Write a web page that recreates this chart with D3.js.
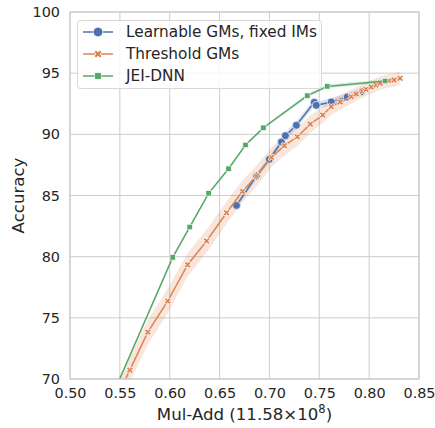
<!DOCTYPE html>
<html><head><meta charset="utf-8">
<script src="https://cdn.jsdelivr.net/npm/d3@7"></script>
<style>body{margin:0;background:#fff}</style>
</head><body>
<script>
const xTicks = [0.50,0.55,0.60,0.65,0.70,0.75,0.80,0.85];
const yTicks = [70,75,80,85,90,95,100];

const learnX = [0.667,0.687,0.700,0.712,0.716,0.727,0.745,0.747,0.762,0.778,0.793];
const learnY = [84.19,86.59,87.96,89.37,89.89,90.74,92.62,92.37,92.65,93.05,93.50];
const learnCI = [0.25,0.25,0.25,0.3,0.3,0.3,0.3,0.3,0.3,0.3,0.3];

const threshX = [0.543,0.560,0.578,0.598,0.618,0.637,0.657,0.673,0.687,0.702,0.715,0.728,0.741,0.7535,0.762,0.771,0.782,0.787,0.793,0.797,0.802,0.807,0.811,0.820,0.825,0.831];
const threshY = [67.8,70.73,73.83,76.37,79.34,81.28,83.59,85.34,86.59,88.12,89.07,89.80,90.83,91.58,92.26,92.64,93.07,93.30,93.52,93.68,93.87,94.03,94.19,94.38,94.44,94.58];
const threshCI = [1.0,1.0,1.0,1.0,0.95,0.95,0.9,0.9,0.85,0.8,0.8,0.75,0.7,0.65,0.65,0.6,0.6,0.55,0.55,0.55,0.55,0.55,0.55,0.55,0.55,0.55];

const jeiX = [0.530,0.603,0.620,0.639,0.659,0.676,0.694,0.738,0.758,0.816];
const jeiY = [66.3,79.94,82.42,85.18,87.19,89.13,90.54,93.16,93.92,94.36];
const jeiCI = [0.1,0.1,0.1,0.1,0.1,0.1,0.12,0.15,0.15,0.15];

const W = 435, H = 428;
const m = {l:70, r:16, t:12, b:49};
const svg = d3.select("body").append("svg").attr("width",W).attr("height",H)
  .style("font-family","'DejaVu Sans', sans-serif");
const x = d3.scaleLinear().domain([0.50,0.85]).range([m.l, W-m.r]);
const y = d3.scaleLinear().domain([70,100]).range([H-m.b, m.t]);
const txt = "#262626", grid = "#cccccc";

// grid
svg.append("g").selectAll("line").data(xTicks).join("line")
  .attr("x1",d=>x(d)).attr("x2",d=>x(d)).attr("y1",m.t).attr("y2",H-m.b)
  .attr("stroke",grid).attr("stroke-width",1);
svg.append("g").selectAll("line").data(yTicks).join("line")
  .attr("y1",d=>y(d)).attr("y2",d=>y(d)).attr("x1",m.l).attr("x2",W-m.r)
  .attr("stroke",grid).attr("stroke-width",1);

// axes
const xa = svg.append("g").attr("transform",`translate(0,${H-m.b})`)
  .call(d3.axisBottom(x).tickValues(xTicks).tickFormat(d3.format(".2f")).tickSize(0).tickPadding(9));
const ya = svg.append("g").attr("transform",`translate(${m.l},0)`)
  .call(d3.axisLeft(y).tickValues(yTicks).tickFormat(d3.format("d")).tickSize(0).tickPadding(10));
[xa,ya].forEach(a=>{a.select(".domain").remove();
  a.selectAll("text").attr("fill",txt).style("font-size","14.4px").style("font-family","'DejaVu Sans', sans-serif");});

// clip
svg.append("clipPath").attr("id","clip").append("rect")
  .attr("x",m.l).attr("y",m.t).attr("width",W-m.l-m.r).attr("height",H-m.t-m.b);
const plot = svg.append("g").attr("clip-path","url(#clip)");

const series = [
  {name:"Learnable GMs, fixed IMs", xs:learnX, ys:learnY, ci:learnCI, color:"#4c72b0", marker:"circle"},
  {name:"Threshold GMs", xs:threshX, ys:threshY, ci:threshCI, color:"#dd8452", marker:"x"},
  {name:"JEI-DNN", xs:jeiX, ys:jeiY, ci:jeiCI, color:"#55a868", marker:"square"}
];

series.forEach(s=>{
  const pts = s.xs.map((v,i)=>({x:v,y:s.ys[i],c:s.ci[i]}));
  plot.append("path").datum(pts)
    .attr("d",d3.area().x(d=>x(d.x)).y0(d=>y(d.y-d.c)).y1(d=>y(d.y+d.c)))
    .attr("fill",s.color).attr("opacity",0.2);
});

function drawMarker(g, s, cx, cy, big){
  const k = big?1.2:1;
  if(s.marker==="circle"){
    g.append("circle").attr("cx",cx).attr("cy",cy).attr("r",4*k)
      .attr("fill",s.color).attr("stroke","#fff").attr("stroke-width",0.7);
  } else if(s.marker==="x"){
    g.append("path").attr("d",d3.symbol(d3.symbolCross, 28*k*k)())
      .attr("transform",`translate(${cx},${cy}) rotate(45)`)
      .attr("fill",s.color).attr("stroke","#fff").attr("stroke-width",0.8);
  } else {
    const a = 2.7*k;
    g.append("rect").attr("x",cx-a).attr("y",cy-a).attr("width",2*a).attr("height",2*a)
      .attr("fill",s.color).attr("stroke","#fff").attr("stroke-width",0.6);
  }
}
series.forEach(s=>{
  const pts = s.xs.map((v,i)=>({x:v,y:s.ys[i]}));
  plot.append("path").datum(pts)
    .attr("d",d3.line().x(d=>x(d.x)).y(d=>y(d.y)))
    .attr("fill","none").attr("stroke",s.color).attr("stroke-width",1.5);
  const g = plot.append("g");
  s.xs.forEach((v,i)=>drawMarker(g,s,x(v),y(s.ys[i]),false));
});

// frame
svg.append("rect").attr("x",m.l).attr("y",m.t).attr("width",W-m.l-m.r).attr("height",H-m.t-m.b)
  .attr("fill","none").attr("stroke",grid).attr("stroke-width",1.25);

// legend
const lg = svg.append("g");
lg.append("rect").attr("x",77.5).attr("y",20.5).attr("width",244).attr("height",68).attr("rx",3)
  .attr("fill","#fff").attr("fill-opacity",0.8).attr("stroke","#d8d8d8");
series.forEach((s,i)=>{
  const cy = 32 + i*22;
  lg.append("line").attr("x1",83).attr("x2",113).attr("y1",cy).attr("y2",cy)
    .attr("stroke",s.color).attr("stroke-width",1.5);
  drawMarker(lg,s,98,cy,true);
  lg.append("text").attr("x",126).attr("y",cy).attr("dy","0.35em")
    .attr("fill",txt).style("font-size","15.3px").text(s.name);
});

// axis labels
svg.append("text").attr("x",(m.l+W-m.r)/2).attr("y",420).attr("text-anchor","middle")
  .attr("fill",txt).style("font-size","16.6px")
  .html('Mul-Add (11.58×10<tspan dy="-7" font-size="11.5px">8</tspan><tspan dy="7">)</tspan>');
svg.append("text").attr("transform",`translate(24,${(m.t+H-m.b)/2}) rotate(-90)`)
  .attr("text-anchor","middle").attr("fill",txt).style("font-size","16.6px").text("Accuracy");
</script>
</body></html>
